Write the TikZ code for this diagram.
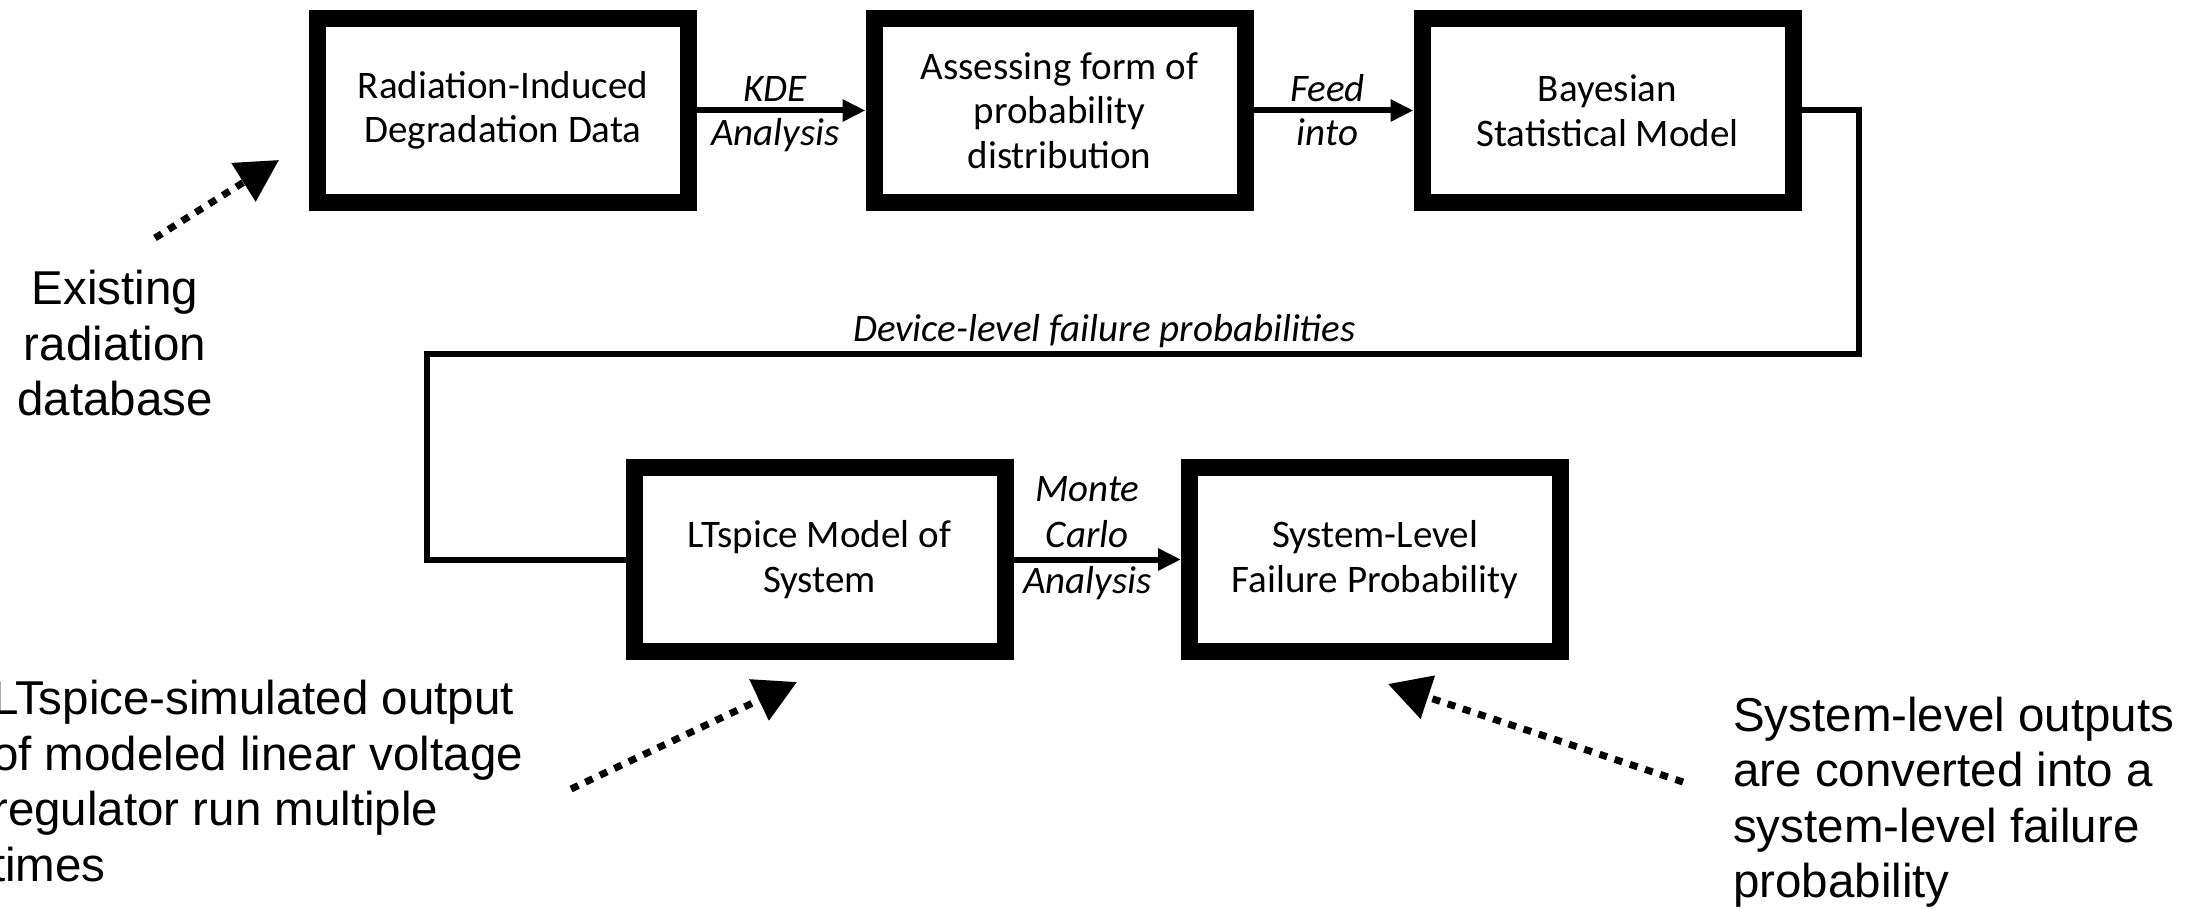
\documentclass[tikz,border=0pt]{standalone}
\usepackage{fontspec}
\setmainfont{Carlito}
\newfontfamily\annotfont{Liberation Sans}
\usetikzlibrary{arrows.meta}
\begin{document}
\begin{tikzpicture}[x=1pt,y=-1pt,
  box/.style={draw=black, line width=17pt, fill=white, minimum width=371pt, minimum height=184pt,
    inner sep=0pt, align=center, font=\fontsize{39}{44.5}\selectfont},
  conn/.style={line width=6pt},
  flow/.style={conn, -{Triangle[length=23pt,width=21pt]}},
  lbl/.style={inner sep=0pt, align=center, font=\fontsize{39}{46}\selectfont\itshape},
  note/.style={inner sep=0pt, font=\annotfont\fontsize{47.5}{55.5}\selectfont},
  pointer/.style={line width=7pt, dash pattern=on 8pt off 8pt, -{Triangle[length=42pt,width=44pt]}}]
\useasboundingbox (0,0) rectangle (2200,909);

% boxes
\node[box] (b1) at (503,110.5) {Radiation-Induced\\Degradation Data};
\node[box] (b2) at (1059.5,110.5) {Assessing form of\\probability\\distribution};
\node[box] (b3) at (1607.5,110.5) {Bayesian\\Statistical Model};
\node[box] (b4) at (819.5,559.5) {LTspice Model of\\System};
\node[box] (b5) at (1375,559.5) {System-Level\\Failure Probability};

% flow arrows
\draw[flow] (b1.east) -- (b2.west)
  node[lbl, midway, anchor=base, yshift=9pt, xshift=-6pt] {KDE}
  node[lbl, midway, anchor=base, yshift=-35pt, xshift=-6pt] {Analysis};
\draw[flow] (b2.east) -- (b3.west)
  node[lbl, midway, anchor=base, yshift=9pt, xshift=-6pt] {Feed}
  node[lbl, midway, anchor=base, yshift=-35pt, xshift=-6pt] {into};

\coordinate (fr) at (1859,354);
\coordinate (fl) at (427,354);
\draw[conn] (b3.east) -| (fr)
  -- node[lbl, pos=0.527, anchor=base, yshift=12.5pt] {Device-level failure probabilities} (fl)
  |- (b4.west);

\draw[flow] (b4.east) -- (b5.west)
  node[lbl, midway, anchor=south, yshift=9pt, xshift=-10pt] {Monte\\Carlo}
  node[lbl, midway, anchor=base, yshift=-33.5pt, xshift=-10pt] {Analysis};

% annotations
\node[note, align=center] (n1) at (115,343.5) {Existing\\radiation\\database};
\node[note, align=left, anchor=west] (n2) at (-8,781.25) {LTspice-simulated output\\of modeled linear voltage\\regulator run multiple\\times};
\node[note, align=left, anchor=west] (n3) at (1733,802) {System-level outputs\\are converted into a\\system-level failure\\probability};

\coordinate (t1) at (155,238);  \coordinate (h1) at (279,160);
\coordinate (t2) at (571,789);  \coordinate (h2) at (797,682);
\coordinate (t3) at (1683,782); \coordinate (h3) at (1388,684);
\draw[pointer] (t1) -- (h1);
\draw[pointer] (t2) -- (h2);
\draw[pointer] (t3) -- (h3);
\end{tikzpicture}
\end{document}
